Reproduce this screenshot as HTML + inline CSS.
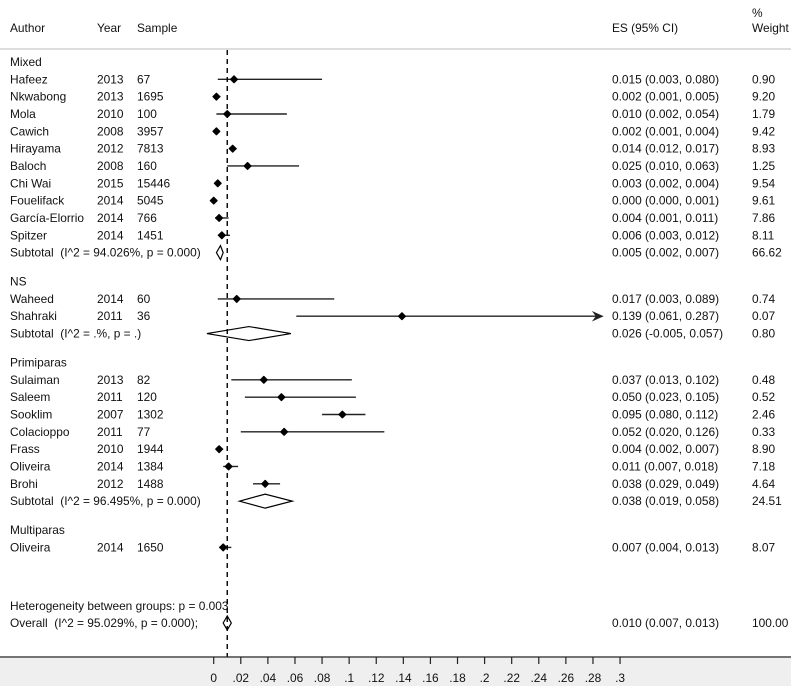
<!DOCTYPE html>
<html><head><meta charset="utf-8"><style>
body{margin:0;background:#fff}
svg{display:block;font-family:"Liberation Sans",sans-serif;font-size:11.9px;fill:#111}
text{white-space:pre}
</style></head><body>
<svg id="chart" width="791" height="686" viewBox="0 0 791 686" xml:space="preserve">
<rect x="0" y="658" width="791" height="28" fill="#efefef"/>
<line x1="0" y1="49" x2="791" y2="49" stroke="#bbb" stroke-width="1"/>
<g>
<text x="10" y="32">Author</text><text x="97" y="32">Year</text><text x="137" y="32">Sample</text>
<text x="612" y="32">ES (95% CI)</text><text x="752" y="17">%</text><text x="752" y="32">Weight</text>
</g>
<g id="rows"></g>
<g id="axis"></g>
</svg>
<script>
const authors=["Hafeez","Nkwabong","Mola","Cawich","Hirayama","Baloch","Chi Wai","Fouelifack","García-Elorrio","Spitzer","Waheed","Shahraki","Sulaiman","Saleem","Sooklim","Colacioppo","Frass","Oliveira","Brohi","Oliveira"];
const years=[2013,2013,2010,2008,2012,2008,2015,2014,2014,2014,2014,2011,2013,2011,2007,2011,2010,2014,2012,2014];
const samples=[67,1695,100,3957,7813,160,15446,5045,766,1451,60,36,82,120,1302,77,1944,1384,1488,1650];
const es=[0.015,0.002,0.010,0.002,0.014,0.025,0.003,0.000,0.004,0.006,0.017,0.139,0.037,0.050,0.095,0.052,0.004,0.011,0.038,0.007];
const lo=[0.003,0.001,0.002,0.001,0.012,0.010,0.002,0.000,0.001,0.003,0.003,0.061,0.013,0.023,0.080,0.020,0.002,0.007,0.029,0.004];
const hi=[0.080,0.005,0.054,0.004,0.017,0.063,0.004,0.001,0.011,0.012,0.089,0.287,0.102,0.105,0.112,0.126,0.007,0.018,0.049,0.013];
const weights=["0.90","9.20","1.79","9.42","8.93","1.25","9.54","9.61","7.86","8.11","0.74","0.07","0.48","0.52","2.46","0.33","8.90","7.18","4.64","8.07"];
const groups=["Mixed","NS","Primiparas","Multiparas"];
const groupSizes=[10,2,7,1];
const subLabels=["Subtotal  (I^2 = 94.026%, p = 0.000)","Subtotal  (I^2 = .%, p = .)","Subtotal  (I^2 = 96.495%, p = 0.000)",null];
const subEs=[0.005,0.026,0.038,null];
const subLo=[0.002,-0.005,0.019,null];
const subHi=[0.007,0.057,0.058,null];
const subW=["66.62","0.80","24.51",null];
const overall=[0.010,0.007,0.013];
const ticks=[0,.02,.04,.06,.08,.1,.12,.14,.16,.18,.2,.22,.24,.26,.28,.3];
const tickLabels=["0",".02",".04",".06",".08",".1",".12",".14",".16",".18",".2",".22",".24",".26",".28",".3"];
const X0=213.7,SC=1354.5,ARROW_FROM=0.25;
const x=v=>X0+v*SC;
const STEP=17.33;
const NS="http://www.w3.org/2000/svg";
const rows=document.getElementById('rows'),axis=document.getElementById('axis');
function mk(t,a,p){const e=document.createElementNS(NS,t);for(const k in a)e.setAttribute(k,a[k]);(p||rows).appendChild(e);return e;}
function txt(s,xx,yy,p){const e=mk('text',{x:xx,y:yy},p);e.textContent=s;return e;}
const f3=v=>v.toFixed(3);
let y=62,idx=0;
groups.forEach((g,gi)=>{
  const gl=txt(g,10,y+4);
  
  
  y+=STEP;
  for(let k=0;k<groupSizes[gi];k++,idx++){
    const r=mk('g',{});
    
    
    txt(authors[idx],10,y+4,r);txt(String(years[idx]),97,y+4,r);txt(String(samples[idx]),137,y+4,r);
    txt(f3(es[idx])+" ("+f3(lo[idx])+", "+f3(hi[idx])+")",612,y+4,r);
    txt(weights[idx],752,y+4,r);
    const h=hi[idx];
    const ci=mk('line',{x1:x(lo[idx]),x2:x(h),y1:y,y2:y,stroke:'#222','stroke-width':1.4},r);
    
    
    if(h>ARROW_FROM){
      const ah=mk('path',{d:`M${x(h)-9},${y-4} L${x(h)},${y} L${x(h)-9},${y+4} L${x(h)-6},${y}Z`,fill:'#222',stroke:'#222','stroke-width':1},r);
      
      
    }
    const c=x(es[idx]);
    const m=mk('path',{d:`M${c-3.3},${y} L${c},${y-3.3} L${c+3.3},${y} L${c},${y+3.3}Z`,fill:'#000',stroke:'#000','stroke-width':1.4,'stroke-linejoin':'round'},r);
    
    
    y+=STEP;
  }
  if(subLabels[gi]){
    const r=mk('g',{});
    
    
    txt(subLabels[gi],10,y+4,r);
    txt(f3(subEs[gi])+" ("+f3(subLo[gi])+", "+f3(subHi[gi])+")",612,y+4,r);
    txt(subW[gi],752,y+4,r);
    const d=mk('path',{d:`M${x(subLo[gi])},${y} L${x(subEs[gi])},${y-7} L${x(subHi[gi])},${y} L${x(subEs[gi])},${y+7}Z`,fill:'#fff',stroke:'#000','stroke-width':1.2},r);
    
    
    y+=STEP;
  }
  y+=STEP*0.67;
});
const het=txt("Heterogeneity between groups: p = 0.003",10,610);


const ov=mk('g',{});


txt("Overall  (I^2 = 95.029%, p = 0.000);",10,627,ov);
txt(f3(overall[0])+" ("+f3(overall[1])+", "+f3(overall[2])+")",612,627,ov);
txt("100.00",752,627,ov);
const ref=mk('line',{x1:x(overall[0]),x2:x(overall[0]),y1:50,y2:657,stroke:'#000','stroke-width':1.4,'stroke-dasharray':'5,4'});


const od=mk('path',{d:`M${x(overall[1])},623 L${x(overall[0])},616 L${x(overall[2])},623 L${x(overall[0])},630Z`,fill:'#fff',stroke:'#000','stroke-width':1.2},ov);


const al=mk('line',{x1:0,x2:791,y1:657,y2:657,stroke:'#222','stroke-width':1.2},axis);


ticks.forEach((t,i)=>{
  const tk=mk('line',{x1:x(t),x2:x(t),y1:657,y2:664,stroke:'#222','stroke-width':1.2},axis);
  
  
  const tl=txt(tickLabels[i],x(t),682,axis);
  tl.setAttribute('text-anchor','middle');
  
  
});
</script>
</body></html>
